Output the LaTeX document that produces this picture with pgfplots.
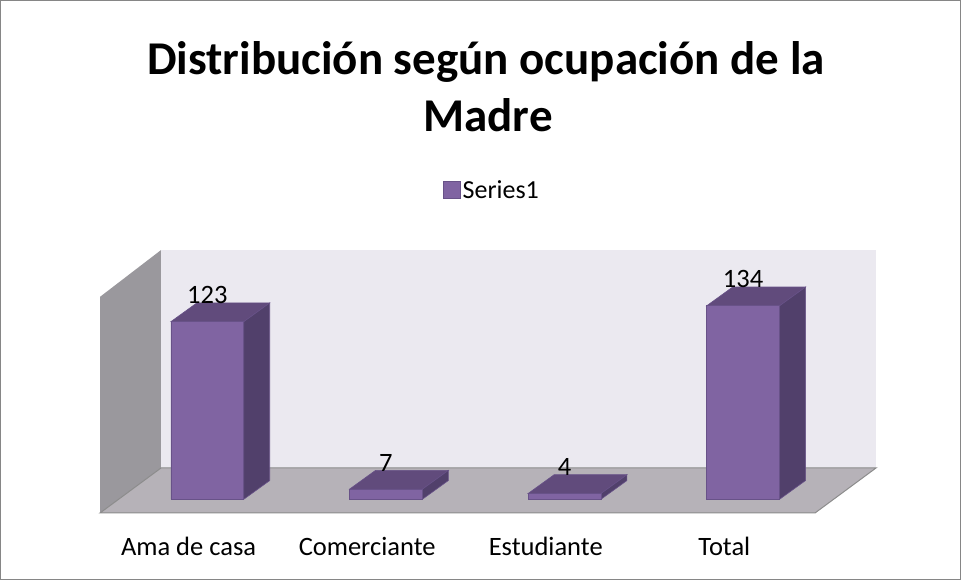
\documentclass[border=0pt]{standalone}
\usepackage{fontspec}
\setmainfont{Carlito}
\usepackage{pgfplots}
\pgfplotsset{compat=1.18}
\definecolor{front}{RGB}{128,100,162}
\definecolor{frontedge}{RGB}{104,82,136}
\definecolor{topc}{RGB}{97,75,124}
\definecolor{sidec}{RGB}{81,64,107}
\definecolor{backwall}{RGB}{235,233,240}
\definecolor{leftwall}{RGB}{154,152,157}
\definecolor{floorc}{RGB}{182,178,184}
\definecolor{flooredge}{RGB}{140,140,140}
\definecolor{bordergray}{RGB}{134,134,134}
\begin{document}
\begin{tikzpicture}[x=1pt,y=1pt]
\useasboundingbox (0,0) rectangle (961,580);
\draw[bordergray, line width=1pt] (0.5,0.5) rectangle (960.5,579.5);
\node[font=\fontsize{47}{55}\selectfont\bfseries, anchor=base, inner sep=0pt] at (486,505) {Distribución según ocupación de la};
\node[font=\fontsize{47}{55}\selectfont\bfseries, anchor=base, inner sep=0pt] at (488,448) {Madre};
\begin{axis}[
  at={(90pt,50pt)}, anchor=south west,
  scale only axis, width=800pt, height=290pt,
  xmin=-0.6568, xmax=3.8225, ymin=-21.26, ymax=179.57,
  clip=false,
  /pgf/number format/assume math mode=true,
  axis line style={draw=none},
  ytick=\empty,
  xtick={-0.105,0.895,1.895,2.895},
  xticklabels={Ama de casa, Comerciante, Estudiante, Total},
  major tick length=0pt,
  xticklabel style={font=\fontsize{26.5}{30}\selectfont, anchor=base, yshift=-26pt},
  legend style={at={(0.5025,1.172)}, anchor=center, draw=none, fill=none,
    font=\fontsize{26}{30}\selectfont, nodes={inner sep=2pt}},
  legend image code/.code={\draw[fill=front, draw=frontedge, line width=0.6pt] (0pt,-8.5pt) rectangle (17pt,8.5pt);},
]
% walls and floor
\addplot[fill=leftwall, draw=none, forget plot] coordinates {(-0.6008,140.2) (-0.2592,172.6) (-0.2592,21.68) (-0.6008,-9.49)} -- cycle;
\addplot[fill=backwall, draw=none, forget plot] coordinates {(-0.2592,172.6) (3.7441,172.6) (3.7441,21.68) (-0.2592,21.68)} -- cycle;
\addplot[fill=floorc, draw=flooredge, line width=1pt, forget plot] coordinates {(-0.6008,-9.49) (-0.2592,21.68) (3.7441,21.68) (3.4026,-9.49)} -- cycle;
% bar tops and sides
\addplot[fill=topc, draw=frontedge, line width=0.6pt, forget plot] coordinates {(-0.204,123) (-0.0584,136) (0.3496,136) (0.204,123)} -- cycle;
\addplot[fill=sidec, draw=frontedge, line width=0.6pt, forget plot] coordinates {(0.204,0) (0.3496,13) (0.3496,136) (0.204,123)} -- cycle;
\addplot[fill=topc, draw=frontedge, line width=0.6pt, forget plot] coordinates {(0.796,7) (0.9416,20) (1.3496,20) (1.204,7)} -- cycle;
\addplot[fill=sidec, draw=frontedge, line width=0.6pt, forget plot] coordinates {(1.204,0) (1.3496,13) (1.3496,20) (1.204,7)} -- cycle;
\addplot[fill=topc, draw=frontedge, line width=0.6pt, forget plot] coordinates {(1.796,4) (1.9416,17) (2.3496,17) (2.204,4)} -- cycle;
\addplot[fill=sidec, draw=frontedge, line width=0.6pt, forget plot] coordinates {(2.204,0) (2.3496,13) (2.3496,17) (2.204,4)} -- cycle;
\addplot[fill=topc, draw=frontedge, line width=0.6pt, forget plot] coordinates {(2.796,134) (2.9416,147) (3.3496,147) (3.204,134)} -- cycle;
\addplot[fill=sidec, draw=frontedge, line width=0.6pt, forget plot] coordinates {(3.204,0) (3.3496,13) (3.3496,147) (3.204,134)} -- cycle;
% front faces
\addplot[ybar, bar width=0.408, fill=front, draw=frontedge, line width=0.6pt,
  nodes near coords,
  nodes near coords style={anchor=base, yshift=18pt, font=\fontsize{26.5}{30}\selectfont, text=black, inner sep=0pt}]
  coordinates {(0,123) (1,7) (2,4) (3,134)};
\addlegendentry{Series1}
\end{axis}
\end{tikzpicture}
\end{document}
